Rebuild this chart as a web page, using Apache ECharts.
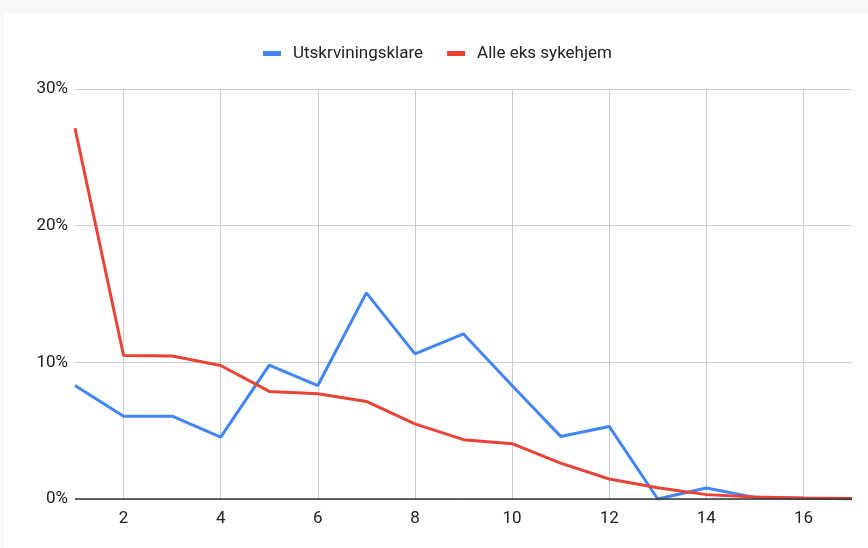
<!DOCTYPE html>
<html>
<head>
<meta charset="utf-8">
<script src="https://cdn.jsdelivr.net/npm/echarts@6/dist/echarts.min.js"></script>
<style>
html,body{margin:0;padding:0;background:#f8f8f8;width:868px;height:548px;overflow:hidden;}
#c{position:absolute;left:4px;top:14px;width:864px;height:534px;background:#fff;}
</style>
</head>
<body>
<div id="c"></div>
<script>
const categories = ['1','2','3','4','5','6','7','8','9','10','11','12','13','14','15','16','17'];
const utskrviningsklare = [8.3, 6.06, 6.06, 4.53, 9.8, 8.3, 15.08, 10.62, 12.08, 8.3, 4.58, 5.31, 0, 0.8, 0.12, 0.05, 0];
const alleEksSykehjem = [27.13, 10.5, 10.47, 9.77, 7.87, 7.7, 7.14, 5.5, 4.34, 4.05, 2.63, 1.46, 0.83, 0.32, 0.15, 0.08, 0.03];
const seriesNames = ['Utskrviningsklare', 'Alle eks sykehjem'];
const yTicks = [0, 10, 20, 30];

const chart = echarts.init(document.getElementById('c'), null, {renderer: 'canvas'});
const font = 'Roboto, Arial, sans-serif';
const evenShown = (i, v) => Number(v) % 2 === 0;
chart.setOption({
  animation: false,
  backgroundColor: '#fff',
  color: ['#4285F4', '#EA4335'],
  legend: {
    top: 26,
    left: 254,
    itemWidth: 18,
    itemHeight: 5,
    itemGap: 24,
    icon: 'rect',
    textStyle: {fontFamily: font, fontSize: 17, color: '#222', padding: [0, 0, 0, 7]},
    data: seriesNames
  },
  grid: {left: 71, right: 16, top: 75, bottom: 49, containLabel: false},
  xAxis: {
    type: 'category',
    data: categories,
    boundaryGap: false,
    axisLine: {show: false},
    axisTick: {show: false},
    axisLabel: {interval: evenShown, fontFamily: font, fontSize: 17, color: '#222', margin: 11},
    splitLine: {show: true, interval: evenShown, lineStyle: {color: '#cccccc', width: 1}}
  },
  yAxis: {
    type: 'value',
    min: yTicks[0],
    max: yTicks[yTicks.length - 1],
    interval: 10,
    axisLine: {show: false},
    axisTick: {show: false},
    axisLabel: {formatter: v => v + '%', fontFamily: font, fontSize: 17, color: '#222', margin: 7},
    splitLine: {lineStyle: {color: '#cccccc', width: 1}}
  },
  series: [
    {
      name: seriesNames[0], type: 'line', data: utskrviningsklare,
      symbol: 'none', lineStyle: {width: 3}, z: 3
    },
    {
      name: seriesNames[1], type: 'line', data: alleEksSykehjem,
      symbol: 'none', lineStyle: {width: 3}, z: 3,
      markLine: {
        silent: true, symbol: 'none', label: {show: false},
        lineStyle: {color: '#333', width: 1.5, type: 'solid'},
        data: [{yAxis: 0}]
      }
    }
  ]
});
</script>
</body>
</html>
